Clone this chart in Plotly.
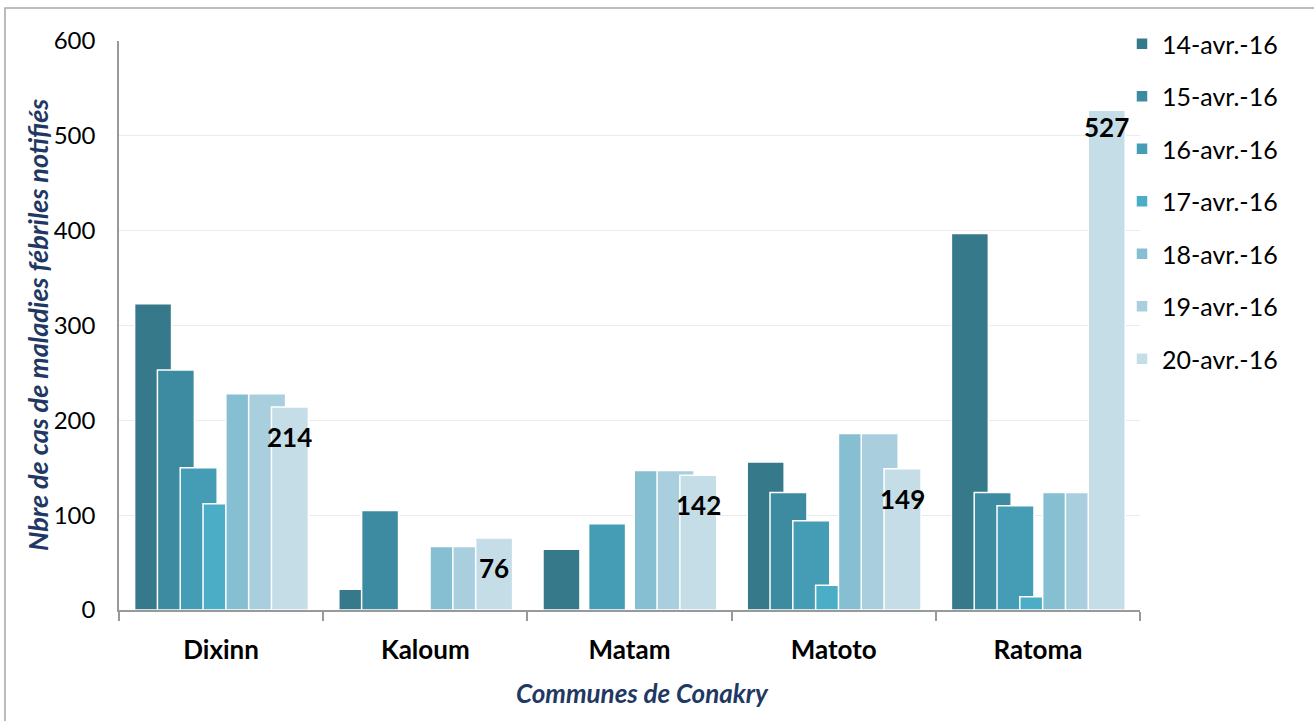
import plotly.graph_objects as go

communes = ["Dixinn", "Kaloum", "Matam", "Matoto", "Ratoma"]
dates = ["14-avr.-16", "15-avr.-16", "16-avr.-16", "17-avr.-16",
         "18-avr.-16", "19-avr.-16", "20-avr.-16"]

avr14 = [323, 22, 64, 156, 397]
avr15 = [253, 105, None, 124, 124]
avr16 = [150, None, 91, 94, 110]
avr17 = [112, None, None, 26, 14]
avr18 = [228, 67, 147, 186, 124]
avr19 = [228, 67, 147, 186, 124]
avr20 = [214, 76, 142, 149, 527]

series = [avr14, avr15, avr16, avr17, avr18, avr19, avr20]
colors = ["#35798A", "#3D8BA1", "#449DB4", "#4BADC6", "#86BFD2", "#A9CFDE", "#C5DDE6"]

# vertical offset (px) of the data labels below the bar top
label_dy = [-30, -30, -30, -30, -17]

FONT = "Lato, Carlito, sans-serif"
AXIS_BLUE = "#1F3864"

# plot area in pixels: x 119..1140, y 41..610
L, R, T, B = 119, 174, 41, 111
PW, PH = 1314 - L - R, 721 - T - B


def px_x(p):
    return (p - L) / PW


def px_y(p):
    return (721 - B - p) / PH


bar_w = 0.181
step = 0.1117
first = -0.4236

fig = go.Figure()
for i, (name, vals, col) in enumerate(zip(dates, series, colors)):
    fig.add_trace(go.Bar(
        x=communes, y=vals, name=name,
        marker=dict(color=col, line=dict(color="white", width=1.5)),
        width=bar_w, offset=first + i * step,
        legendgroup=name,
    ))

# labels of the last series, centred on its bars
last_center_px = (first + 6 * step + bar_w / 2) * PW / len(communes)
for c, v, dy in zip(communes, avr20, label_dy):
    fig.add_annotation(
        x=c, y=v, xref="x", yref="y", text=f"<b>{v}</b>", showarrow=False,
        xshift=last_center_px, yshift=dy,
        font=dict(family=FONT, size=26, color="black"),
    )

fig.update_layout(
    barmode="overlay",
    width=1314, height=721,
    margin=dict(l=L, r=R, t=T, b=B, autoexpand=False),
    paper_bgcolor="white", plot_bgcolor="white",
    font=dict(family=FONT, size=24, color="black"),
    legend=dict(
        x=px_x(1122), y=px_y(21), xanchor="left", yanchor="top",
        font=dict(size=25, color="black"),
        tracegroupgap=17, traceorder="grouped",
        itemwidth=30, bgcolor="rgba(0,0,0,0)", maxheight=600,
    ),
    xaxis=dict(
        automargin=False,
        tickson="boundaries", ticks="outside", ticklen=9, tickcolor="#999999", tickwidth=1.5,
        showline=True, linecolor="#999999", linewidth=2,
        tickfont=dict(size=26, weight="bold"),
        ticklabelstandoff=16,
    ),
    yaxis=dict(
        automargin=False,
        range=[0, 600], dtick=100,
        showgrid=True, gridcolor="#EBEBEB", gridwidth=1,
        showline=True, linecolor="#999999", linewidth=1.5,
        ticks="", tickfont=dict(size=24),
        ticklabelstandoff=17,
        zeroline=False,
    ),
)

fig.add_annotation(text="Communes de Conakry", xref="paper", yref="paper",
                   x=px_x(642), y=px_y(693), xanchor="center", yanchor="middle",
                   showarrow=False,
                   font=dict(size=26, color=AXIS_BLUE, weight="bold", style="italic"))
fig.add_annotation(text="Nbre de cas de maladies fébriles notifiés", xref="paper", yref="paper",
                   x=px_x(37), y=px_y(325), xanchor="center", yanchor="middle",
                   showarrow=False, textangle=-90,
                   font=dict(size=27, color=AXIS_BLUE, weight="bold", style="italic"))

# outer chart frame (only left and top edges fall inside the picture)
fig.add_shape(type="rect", xref="paper", yref="paper",
              x0=px_x(5), x1=px_x(1330), y0=px_y(740), y1=px_y(8),
              line=dict(color="#A6A6A6", width=1.5), fillcolor="rgba(0,0,0,0)", layer="below")

fig.write_html("out.html", config={"displayModeBar": False},
               post_script="document.body.style.margin='0';")
